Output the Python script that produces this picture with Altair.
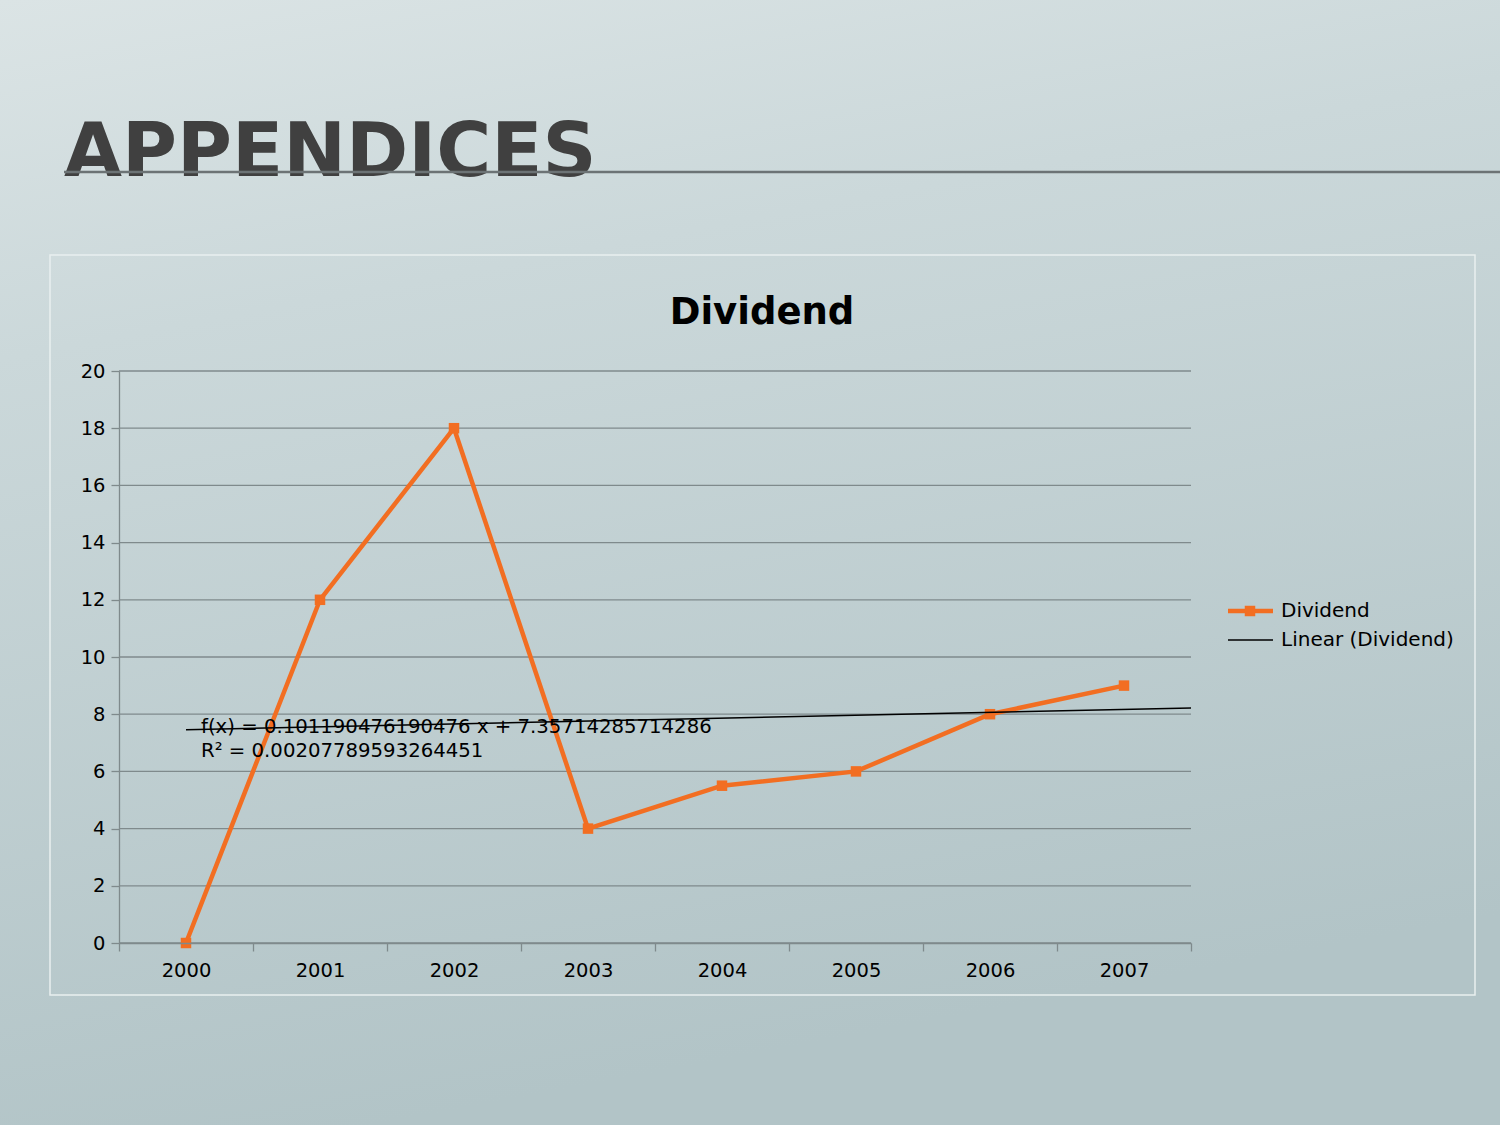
import altair as alt
import pandas as pd

# ---- data ----
years = ["2000", "2001", "2002", "2003", "2004", "2005", "2006", "2007"]
dividend = [0, 12, 18, 4, 5.5, 6, 8, 9]
idx = [1, 2, 3, 4, 5, 6, 7, 8]
y_ticks = [0, 2, 4, 6, 8, 10, 12, 14, 16, 18, 20]
slide_title = "APPENDICES"
chart_title = "Dividend"
trend_eq = "f(x) = 0.101190476190476 x + 7.35714285714286"
trend_r2 = "R² = 0.00207789593264451"
legend_labels = ["Dividend", "Linear (Dividend)"]

df = pd.DataFrame({"year": years, "dividend": dividend, "idx": idx})
grid_df = pd.DataFrame({"dividend": y_ticks})

# ---- layout (plot area in page pixels) ----
L, T, R, B = 119, 371, 1191, 943
W, H = R - L, B - T
ORANGE = "#F26E22"
FONT = "DejaVu Sans"
GRID = "#7f8a8c"


def px(v):
    return alt.value(v - L)


def py(v):
    return alt.value(v - T)


one = alt.Data(values=[{"a": 1}])

# background gradient
bg = alt.Chart(one).mark_rect(
    fill=alt.Gradient(
        gradient="linear",
        stops=[
            alt.GradientStop(color="#dbe4e5", offset=0),
            alt.GradientStop(color="#cbd8da", offset=0.3),
            alt.GradientStop(color="#b2c4c7", offset=1),
        ],
        x1=0, x2=0.25, y1=0, y2=1,
    )
).encode(x=px(0), x2=px(1500), y=py(0), y2=py(1125))

# slide title + divider
title_txt = alt.Chart(one).mark_text(
    text=slide_title, font=FONT, fontWeight="bold", fontSize=75,
    color="#404040", align="left", baseline="alphabetic",
).encode(x=px(64), y=py(176))

divider = alt.Chart(one).mark_rule(color="#6c7375", strokeWidth=2.5).encode(
    x=px(64), x2=px(1500), y=py(172)
)

# chart frame
frame = alt.Chart(one).mark_rect(
    fill=None, stroke="#e9efef", strokeWidth=1.5
).encode(x=px(50), x2=px(1475), y=py(255), y2=py(995))

chart_title_txt = alt.Chart(one).mark_text(
    text=chart_title, font=FONT, fontWeight="bold", fontSize=37,
    color="black", align="center", baseline="alphabetic",
).encode(x=px(762), y=py(324))

yscale = alt.Scale(domain=[0, 20], nice=False, zero=True)

# horizontal gridlines (drawn under the series)
grid = alt.Chart(grid_df).mark_rule(color=GRID, strokeWidth=1.3).encode(
    y=alt.Y("dividend:Q", scale=yscale), x=alt.value(0), x2=alt.value(W)
)

# main series
xenc = alt.X(
    "year:O",
    bandPosition=0.5,
    scale=alt.Scale(type="band", paddingInner=0, paddingOuter=0),
    axis=alt.Axis(
        title=None, labelAngle=0, tickBand="extent", grid=False, zindex=1,
        labelFont=FONT, labelFontSize=19.5, labelColor="black",
        tickColor=GRID, tickSize=8, tickWidth=1.3,
        domainColor=GRID, domainWidth=1.3, labelPadding=10,
    ),
)
yenc = alt.Y(
    "dividend:Q",
    scale=yscale,
    axis=alt.Axis(
        title=None, values=y_ticks, grid=False, zindex=1,
        labelFont=FONT, labelFontSize=19.5, labelColor="black",
        tickColor=GRID, tickSize=8, tickWidth=1.3,
        domainColor=GRID, domainWidth=1.3, labelPadding=6,
    ),
)

line = alt.Chart(df).mark_line(
    color=ORANGE, strokeWidth=4.5,
    point=alt.OverlayMarkDef(shape="square", filled=True, color=ORANGE, size=110, opacity=1),
).encode(x=xenc, y=yenc)

trend = alt.Chart(df).transform_regression(
    "idx", "dividend", extent=[1, 8.5]
).mark_line(color="black", strokeWidth=1.5).encode(
    x=alt.X("idx:Q", scale=alt.Scale(domain=[0.5, 8.5], nice=False, zero=False), axis=None),
    y=alt.Y("dividend:Q", scale=yscale),
)

eq1 = alt.Chart(one).mark_text(
    text=trend_eq, font=FONT, fontSize=19.7, color="black",
    align="left", baseline="alphabetic",
).encode(x=px(201), y=py(733))
eq2 = alt.Chart(one).mark_text(
    text=trend_r2, font=FONT, fontSize=19.7, color="black",
    align="left", baseline="alphabetic",
).encode(x=px(201), y=py(757))

# legend
leg_line1 = alt.Chart(one).mark_rule(color=ORANGE, strokeWidth=4.5).encode(
    x=px(1228), x2=px(1273), y=py(611)
)
leg_pt1 = alt.Chart(one).mark_point(
    shape="square", filled=True, color=ORANGE, size=110, opacity=1
).encode(x=px(1250), y=py(611))
leg_txt1 = alt.Chart(one).mark_text(
    text=legend_labels[0], font=FONT, fontSize=20, color="black",
    align="left", baseline="middle",
).encode(x=px(1281), y=py(611))
leg_line2 = alt.Chart(one).mark_rule(color="black", strokeWidth=1.5).encode(
    x=px(1228), x2=px(1273), y=py(640)
)
leg_txt2 = alt.Chart(one).mark_text(
    text=legend_labels[1], font=FONT, fontSize=20, color="black",
    align="left", baseline="middle",
).encode(x=px(1281), y=py(640))

chart = alt.layer(
    bg, title_txt, divider, frame, chart_title_txt,
    grid, line, trend, eq1, eq2,
    leg_line1, leg_pt1, leg_txt1, leg_line2, leg_txt2,
).resolve_scale(x="independent").properties(
    width=W, height=H,
    autosize=alt.AutoSizeParams(type="none"),
    padding={"left": L, "top": T, "right": 1500 - R, "bottom": 1125 - B},
    background="#c9d6d8",
).configure_view(stroke=None)

chart.save("out.html", embed_options={"renderer": "svg", "actions": False})
